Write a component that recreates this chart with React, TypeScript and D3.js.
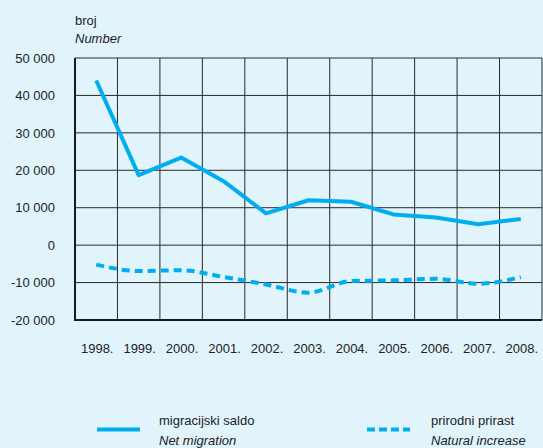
import React, { useEffect, useRef } from 'react';
import * as d3 from 'd3';

const years = ['1998.', '1999.', '2000.', '2001.', '2002.', '2003.', '2004.', '2005.', '2006.', '2007.', '2008.'];
const netMigration = [44000, 18700, 23400, 17100, 8500, 12000, 11600, 8200, 7400, 5600, 7000];
const naturalIncrease = [-5200, -6900, -6700, -8500, -10500, -12700, -9600, -9400, -9000, -10300, -8500];
const yTicks = [50000, 40000, 30000, 20000, 10000, 0, -10000, -20000];

const W = 543;
const H = 448;
const LINE = '#00aeef';
const FONT = '"Liberation Sans", Arial, sans-serif';

const fmt = (v: number) => {
  const s = Math.abs(v).toString().replace(/\B(?=(\d{3})+(?!\d))/g, ' ');
  return (v < 0 ? '-' : '') + s;
};

const Chart = () => {
  const svgRef = useRef<SVGSVGElement>(null);

  useEffect(() => {
    const svg = d3.select(svgRef.current);
    svg.selectAll('*').remove();

    const left = 75, right = 542, top = 58, bottom = 320;

    const x = d3.scaleBand().domain(years).range([left, right]).padding(0);
    const y = d3.scaleLinear().domain([-20000, 50000]).range([bottom, top]);
    const cx = (d: string) => (x(d) as number) + x.bandwidth() / 2;

    svg.append('rect').attr('width', W).attr('height', H).attr('fill', '#e1f3fb');

    // grid
    const grid = svg.append('g').attr('stroke', '#2a2a2a').attr('stroke-width', 1);
    grid.selectAll('.h').data(yTicks).enter().append('line')
      .attr('x1', left).attr('x2', right)
      .attr('y1', d => y(d)).attr('y2', d => y(d));
    const vx = years.map(d => x(d) as number).concat([right]);
    grid.selectAll('.v').data(vx).enter().append('line')
      .attr('x1', d => d).attr('x2', d => d)
      .attr('y1', top).attr('y2', bottom);

    // axes (heavier left + bottom)
    svg.append('path')
      .attr('d', `M${left},${top}V${bottom}H${right}`)
      .attr('fill', 'none').attr('stroke', '#1a1a1a').attr('stroke-width', 2);

    // y labels
    svg.append('g').selectAll('text').data(yTicks).enter().append('text')
      .attr('x', 55).attr('y', d => y(d)).attr('dy', '0.36em')
      .attr('text-anchor', 'end')
      .style('font-family', FONT).style('font-size', '13px').attr('fill', '#222')
      .text(d => fmt(d));

    // x labels
    svg.append('g').selectAll('text').data(years).enter().append('text')
      .attr('x', d => cx(d) + 1).attr('y', 352.5)
      .attr('text-anchor', 'middle')
      .style('font-family', FONT).style('font-size', '13px').attr('fill', '#222')
      .text(d => d);

    // unit titles
    svg.append('text').attr('x', 75).attr('y', 25)
      .style('font-family', FONT).style('font-size', '13px').attr('fill', '#222').text('broj');
    svg.append('text').attr('x', 75).attr('y', 43)
      .style('font-family', FONT).style('font-size', '13px').style('font-style', 'italic')
      .attr('fill', '#222').text('Number');

    // lines
    const migLine = d3.line<number>()
      .x((_, i) => cx(years[i]))
      .y(d => y(d));
    const natLine = d3.line<number>()
      .x((_, i) => cx(years[i]))
      .y(d => y(d))
      .curve(d3.curveMonotoneX);

    svg.append('path').datum(netMigration)
      .attr('d', migLine).attr('fill', 'none')
      .attr('stroke', LINE).attr('stroke-width', 4).attr('stroke-linejoin', 'round');
    svg.append('path').datum(naturalIncrease)
      .attr('d', natLine).attr('fill', 'none')
      .attr('stroke', LINE).attr('stroke-width', 4).attr('stroke-dasharray', '8 5');

    // legend
    const lg = svg.append('g');
    lg.append('line').attr('x1', 97).attr('x2', 140).attr('y1', 429.5).attr('y2', 429.5)
      .attr('stroke', LINE).attr('stroke-width', 4);
    lg.append('line').attr('x1', 367).attr('x2', 410).attr('y1', 429.5).attr('y2', 429.5)
      .attr('stroke', LINE).attr('stroke-width', 4).attr('stroke-dasharray', '8 4');
    const legendText = [
      { x: 159, a: 'migracijski saldo', b: 'Net migration' },
      { x: 431, a: 'prirodni prirast', b: 'Natural increase' },
    ];
    legendText.forEach(t => {
      lg.append('text').attr('x', t.x).attr('y', 425)
        .style('font-family', FONT).style('font-size', '13px').attr('fill', '#222').text(t.a);
      lg.append('text').attr('x', t.x).attr('y', 445)
        .style('font-family', FONT).style('font-size', '13px').style('font-style', 'italic')
        .attr('fill', '#222').text(t.b);
    });
  }, []);

  return <svg ref={svgRef} width={W} height={H} style={{ display: 'block' }} />;
};

export default function App() {
  return (
    <div style={{ position: 'fixed', left: 0, top: 0, width: W, height: H }}>
      <Chart />
    </div>
  );
}
